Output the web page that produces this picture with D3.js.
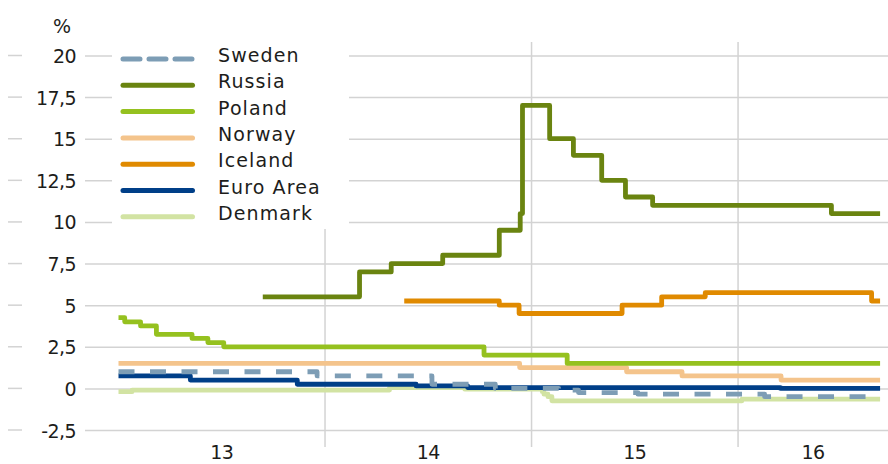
<!DOCTYPE html>
<html>
<head>
<meta charset="utf-8">
<script src="https://cdn.jsdelivr.net/npm/d3@7/dist/d3.min.js"></script>
<style>
  body { margin: 0; background: #fff; }
  svg { display: block; font-family: 'DejaVu Sans', sans-serif; }
</style>
</head>
<body>
<div id="chart"></div>
<script>
// Policy rates, %. Each value holds until the next change (step chart).
const swedenRates = [
  ['2013-01-01', 1.0], ['2013-12-18', 0.75], ['2014-07-09', 0.25], ['2014-10-29', 0.0],
  ['2015-02-18', -0.1], ['2015-03-25', -0.25], ['2015-07-08', -0.35], ['2016-02-17', -0.5],
  ['2016-09-08', -0.5]
];
const russiaRates = [
  ['2013-09-13', 5.5], ['2014-03-03', 7.0], ['2014-04-28', 7.5], ['2014-07-28', 8.0],
  ['2014-11-05', 9.5], ['2014-12-12', 10.5], ['2014-12-16', 17.0], ['2015-02-02', 15.0],
  ['2015-03-16', 14.0], ['2015-05-05', 12.5], ['2015-06-16', 11.5], ['2015-08-03', 11.0],
  ['2016-06-14', 10.5], ['2016-09-08', 10.5]
];
const polandRates = [
  ['2013-01-01', 4.25], ['2013-01-12', 4.0], ['2013-02-09', 3.75], ['2013-03-09', 3.25],
  ['2013-05-11', 3.0], ['2013-06-08', 2.75], ['2013-07-06', 2.5], ['2014-10-09', 2.0],
  ['2015-03-05', 1.5], ['2016-09-08', 1.5]
];
const norwayRates = [
  ['2013-01-01', 1.5], ['2014-12-11', 1.25], ['2015-06-18', 1.0], ['2015-09-24', 0.75],
  ['2016-03-17', 0.5], ['2016-09-08', 0.5]
];
const icelandRates = [
  ['2014-05-21', 5.25], ['2014-11-05', 5.0], ['2014-12-10', 4.5], ['2015-06-10', 5.0],
  ['2015-08-19', 5.5], ['2015-11-04', 5.75], ['2016-08-24', 5.25], ['2016-09-08', 5.25]
];
const euroAreaRates = [
  ['2013-01-01', 0.75], ['2013-05-08', 0.5], ['2013-11-13', 0.25], ['2014-06-11', 0.15],
  ['2014-09-10', 0.05], ['2016-03-16', 0.0], ['2016-09-08', 0.0]
];
const denmarkRates = [
  ['2013-01-01', -0.2], ['2013-01-25', -0.1], ['2014-04-25', 0.05], ['2014-09-05', -0.05],
  ['2015-01-20', -0.2], ['2015-01-23', -0.35], ['2015-01-30', -0.5], ['2015-02-06', -0.75],
  ['2016-01-08', -0.65], ['2016-09-08', -0.65]
];

const seriesNames = ['Sweden', 'Russia', 'Poland', 'Norway', 'Iceland', 'Euro Area', 'Denmark'];
const yTicks = [-2.5, 0, 2.5, 5, 7.5, 10, 12.5, 15, 17.5, 20];
const yearLabels = ['13', '14', '15', '16'];
const yearStarts = ['2013-01-01', '2014-01-01', '2015-01-01', '2016-01-01', '2017-01-01'];
const unitLabel = '%';

const d3Config = {
  viewportWidth: 888,
  viewportHeight: 464,
  plotLeft: 85,
  plotTop: 42,
  plotBottom: 447,
  xStart: 118.5,
  xEnd: 888,
  gridColor: '#d3d3d3',
  textColor: '#1d1d1b',
  fontSize: 19,
  lineWidth: 4.8
};

const seriesStyle = {
  'Sweden': { color: '#7d9db5', dash: '16,15.5', legendDash: '17,9' },
  'Russia': { color: '#6a8410' },
  'Poland': { color: '#95c11f' },
  'Norway': { color: '#f4c48c' },
  'Iceland': { color: '#e08a00' },
  'Euro Area': { color: '#003f88' },
  'Denmark': { color: '#d2e3a3' }
};

const parseDate = d3.timeParse('%Y-%m-%d');
const seriesRows = [swedenRates, russiaRates, polandRates, norwayRates, icelandRates, euroAreaRates, denmarkRates];
const series = seriesNames.map((name, i) => ({
  name,
  style: seriesStyle[name],
  values: seriesRows[i].map(([d, v]) => ({ date: parseDate(d), value: v }))
}));

const svg = d3.select('#chart')
  .append('svg')
  .attr('width', d3Config.viewportWidth)
  .attr('height', d3Config.viewportHeight);

const xMapper = d3.scaleTime()
  .domain([parseDate('2013-01-01'), parseDate('2016-09-22')])
  .range([d3Config.xStart, d3Config.xEnd]);

const yMapper = d3.scaleLinear()
  .domain([-2.5, 20])
  .range([430, 55.5]);

// horizontal grid + the little stubs left of the labels
const yAxis = svg.append('g')
  .attr('transform', `translate(${d3Config.viewportWidth},0)`)
  .call(d3.axisLeft(yMapper)
    .tickValues(yTicks)
    .tickSize(d3Config.viewportWidth - d3Config.plotLeft)
    .tickFormat(''));
yAxis.select('.domain').remove();
yAxis.selectAll('.tick line')
  .attr('stroke', d3Config.gridColor)
  .attr('stroke-width', 1.5);

svg.append('g')
  .selectAll('line')
  .data(yTicks)
  .join('line')
  .attr('x1', 8)
  .attr('x2', 22)
  .attr('y1', d => yMapper(d))
  .attr('y2', d => yMapper(d))
  .attr('stroke', d3Config.gridColor)
  .attr('stroke-width', 1.5);

svg.append('g')
  .selectAll('text')
  .data(yTicks)
  .join('text')
  .attr('x', 76)
  .attr('y', d => yMapper(d) + 7.5)
  .attr('text-anchor', 'end')
  .attr('fill', d3Config.textColor)
  .attr('font-size', d3Config.fontSize)
  .attr('letter-spacing', -0.6)
  .text(d => String(d).replace('.', ','));

svg.append('text')
  .attr('x', 62)
  .attr('y', 33)
  .attr('text-anchor', 'middle')
  .attr('fill', d3Config.textColor)
  .attr('font-size', d3Config.fontSize)
  .text(unitLabel);

// vertical year separators
const yearDates = yearStarts.map(parseDate);
const domain = xMapper.domain();
svg.append('g')
  .selectAll('line')
  .data(yearDates.filter(d => d > domain[0] && d < domain[1]))
  .join('line')
  .attr('x1', d => xMapper(d))
  .attr('x2', d => xMapper(d))
  .attr('y1', d3Config.plotTop)
  .attr('y2', d3Config.plotBottom)
  .attr('stroke', d3Config.gridColor)
  .attr('stroke-width', 1.5);

// year labels, centred on the visible part of each year
svg.append('g')
  .selectAll('text')
  .data(yearLabels)
  .join('text')
  .attr('x', (d, i) => {
    const a = xMapper(d3.max([yearDates[i], domain[0]]));
    const b = xMapper(d3.min([yearDates[i + 1], domain[1]]));
    return (a + b) / 2;
  })
  .attr('y', 459)
  .attr('text-anchor', 'middle')
  .attr('fill', d3Config.textColor)
  .attr('font-size', d3Config.fontSize)
  .attr('letter-spacing', -0.6)
  .text(d => d);

// legend background
svg.append('rect')
  .attr('x', 112)
  .attr('y', 40)
  .attr('width', 237)
  .attr('height', 189)
  .attr('fill', '#fff');

const stepLine = d3.line()
  .x(d => xMapper(d.date))
  .y(d => yMapper(d.value))
  .curve(d3.curveStepAfter);

svg.append('g')
  .selectAll('path')
  .data(series.slice().reverse())
  .join('path')
  .attr('d', d => stepLine(d.values))
  .attr('fill', 'none')
  .attr('stroke', d => d.style.color)
  .attr('stroke-width', d3Config.lineWidth)
  .attr('stroke-linejoin', 'round')
  .attr('stroke-dasharray', d => d.style.dash || null);

// legend
const legend = svg.append('g')
  .selectAll('g')
  .data(series)
  .join('g')
  .attr('transform', (d, i) => `translate(0,${59 + i * 26.3})`);

legend.append('line')
  .attr('x1', 123)
  .attr('x2', 192.5)
  .attr('stroke', d => d.style.color)
  .attr('stroke-width', 5)
  .attr('stroke-linecap', 'round')
  .attr('stroke-dasharray', d => d.style.legendDash || null);

legend.append('text')
  .attr('x', 218)
  .attr('y', 3)
  .attr('fill', d3Config.textColor)
  .attr('font-size', d3Config.fontSize)
  .attr('letter-spacing', 1.1)
  .text(d => d.name);
</script>
</body>
</html>
